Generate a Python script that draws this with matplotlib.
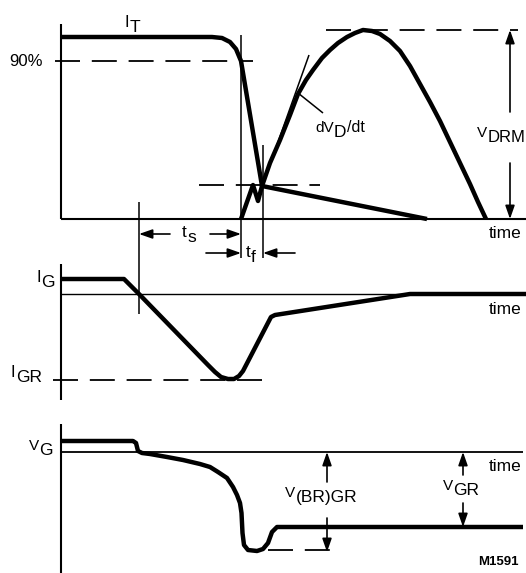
import matplotlib
matplotlib.use("Agg")
import matplotlib.pyplot as plt

plt.rcParams['font.family'] = ['Liberation Sans', 'DejaVu Sans']
plt.rcParams['lines.scale_dashes'] = False

# ---------------- data (schematic coordinates: x = time, y = level, drawing units) ----
# anode current I_T
it_x = [61, 212, 222, 230, 236, 241, 262, 427]
it_y = [37, 37, 38, 42, 49, 61, 186, 219]

# anode voltage V_D (recovery notch then re-applied sine half wave)
vd_x = [241, 253, 258, 262, 270, 280, 290, 298, 306, 313, 322, 330, 338, 347, 355, 363,
        372, 380, 390, 400, 410, 420, 430, 440, 450, 460, 470, 478, 486]
vd_y = [219, 185, 201, 186, 163, 140, 115, 94, 80, 70, 58, 50, 43, 37, 33, 30,
        31, 34, 41, 51, 66, 84, 102, 121, 142, 163, 184, 202, 219]

# gate current I_G
ig_x = [61, 124, 139, 208, 215, 221, 228, 234, 239, 243, 271, 275, 410, 526]
ig_y = [279, 279, 294, 365, 372, 377, 379, 379, 376, 371, 317, 315, 294, 294]

# gate voltage V_G
vg_x = [61, 133, 136, 138, 142, 150, 167, 183, 200, 210, 218, 227, 233, 237, 240, 241.5,
        242.5, 244, 248, 257, 263, 268, 272, 277, 287, 523]
vg_y = [441, 441, 443, 451, 453, 454, 457, 460, 464, 467, 472, 478, 487, 495, 503, 513,
        533, 545, 550, 551, 549, 543, 532, 527, 527, 527]

# panel frames: (x of vertical axis, y top, y bottom, baseline y, baseline x end)
axis_x = 61
axis_spans = [(24, 219), (264, 400), (424, 573)]
base_lines = [(219, 526, 1.5), (294, 526, 1.0), (452, 523, 1.3)]

# dashed reference levels: (y, x start, x end)
dashed_levels = [(61, 55, 253), (30, 326, 518), (185, 199, 320), (380, 53, 262), (550, 268, 333)]

# thin construction lines: ((x0, y0), (x1, y1))
thin_lines = [((241, 35), (241, 258)), ((263, 145), (263, 258)), ((139, 202), (139, 314)),
              ((262, 187), (309, 55)), ((298, 93), (323, 113))]

# dimension arrows: (tail, head)
arrows = [((170, 234), (139, 234)), ((210, 234), (241, 234)),
          ((206, 253), (241, 253)), ((295, 253), (263, 253)),
          ((510, 112), (510, 30)), ((510, 163), (510, 219)),
          ((327, 482), (327, 452)), ((327, 518), (327, 552)),
          ((463, 475), (463, 452)), ((463, 503), (463, 527))]

# ---------------- drawing ----------------
W, H = 526, 573
fig = plt.figure(figsize=(W / 100, H / 100), dpi=100)
ax = fig.add_axes([0, 0, 1, 1])
ax.set_xlim(0, W)
ax.set_ylim(H, 0)
ax.axis('off')

for y0, y1 in axis_spans:
    ax.plot([axis_x, axis_x], [y0, y1], color='black', lw=1.5, solid_capstyle='butt')
for y, xe, lw in base_lines:
    ax.plot([axis_x, xe], [y, y], color='black', lw=lw, solid_capstyle='butt')

for y, xa, xb in dashed_levels:
    ax.plot([xa, xb], [y, y], color='black', lw=1.3, linestyle=(0, (18, 8.5)),
            dash_capstyle='butt')

for (x0, y0), (x1, y1) in thin_lines:
    ax.plot([x0, x1], [y0, y1], color='black', lw=1.1, solid_capstyle='butt')

thick = dict(color='black', lw=3.2, solid_joinstyle='round', solid_capstyle='butt')
ax.plot(it_x, it_y, **thick)
ax.plot(vd_x, vd_y, **thick)
ax.plot(ig_x, ig_y, **thick)
ax.plot(vg_x, vg_y, **thick)

for tail, head in arrows:
    ax.annotate('', xy=head, xytext=tail,
                arrowprops=dict(arrowstyle='-|>,head_length=0.8,head_width=0.28',
                                lw=1.2, color='black', shrinkA=0, shrinkB=0,
                                mutation_scale=10))

PX = 72 / 100.0


def sub_label(x, y, main, sub, tail=None, fs_main=11, fs_sub=12.5, drop=5):
    t = ax.text(x, y, main, fontsize=fs_main, ha='left', va='baseline')
    s = ax.annotate(sub, xy=(1, 0), xycoords=t, xytext=(0.3, -drop * PX),
                    textcoords='offset points', fontsize=fs_sub, ha='left', va='bottom')
    if tail:
        ax.annotate(tail, xy=(1, 0), xycoords=s, xytext=(0.3, drop * PX),
                    textcoords='offset points', fontsize=fs_main + 0.5, ha='left', va='bottom')


sub_label(125, 27, 'I', 'T', fs_main=12)
sub_label(315, 132, 'dV', 'D', tail='/dt')
sub_label(477, 137, 'V', 'DRM', fs_sub=12)
sub_label(36, 282, 'I', 'G', fs_main=12)
sub_label(11, 377, 'I', 'GR', fs_main=12)
sub_label(29, 450, 'V', 'G')
sub_label(285, 497, 'V', '(BR)GR')
sub_label(443, 490, 'V', 'GR')
sub_label(182, 237, 't', 's', fs_main=12.5, fs_sub=12.5)
sub_label(246, 257, 't', 'f', fs_main=12.5, fs_sub=12.5)

ax.text(43, 61, '90%', fontsize=12, ha='right', va='center')
for y in (238, 314, 471):
    ax.text(489, y, 'time', fontsize=12.5, ha='left', va='baseline')
ax.text(478, 565, 'M1591', fontsize=9.5, fontweight='bold', ha='left', va='baseline')

fig.savefig('out.png', dpi=100)
